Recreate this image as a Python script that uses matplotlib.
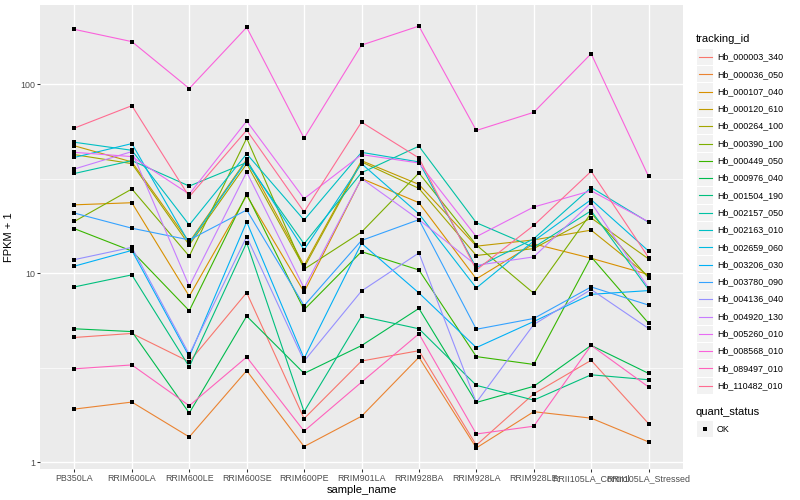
import numpy as np
import matplotlib
matplotlib.use('Agg')
import matplotlib.pyplot as plt
from matplotlib.patches import Rectangle
from matplotlib.lines import Line2D
from matplotlib.ticker import FixedLocator, NullFormatter

plt.rcParams['font.family'] = ['Liberation Sans', 'DejaVu Sans']

# サンプル名 (x軸)
samples = ['PB350LA', 'RRIM600LA', 'RRIM600LE', 'RRIM600SE', 'RRIM600PE',
           'RRIM901LA', 'RRIM928BA', 'RRIM928LA', 'RRIM928LE',
           'RRII105LA_Control', 'RRII105LA_Stressed']

tracking_ids = ['Hb_000003_340', 'Hb_000036_050', 'Hb_000107_040', 'Hb_000120_610',
                'Hb_000264_100', 'Hb_000390_100', 'Hb_000449_050', 'Hb_000976_040',
                'Hb_001504_190', 'Hb_002157_050', 'Hb_002163_010', 'Hb_002659_060',
                'Hb_003206_030', 'Hb_003780_090', 'Hb_004136_040', 'Hb_004920_130',
                'Hb_005260_010', 'Hb_008568_010', 'Hb_089497_010', 'Hb_110482_010']

# ggplot hue palette (20 levels)
colors = ['#F8766D', '#EA8331', '#D89000', '#C09B00', '#A3A500', '#7CAE00',
          '#39B600', '#00BB4E', '#00BF7D', '#00C1A3', '#00BFC4', '#00BAE0',
          '#00B0F6', '#35A2FF', '#9590FF', '#C77CFF', '#E76BF3', '#FA62DB',
          '#FF62BC', '#FF6C91']

# FPKM + 1 の値
hb_000003_340 = [4.57, 4.80, 3.40, 7.89, 1.70, 3.43, 3.89, 1.23, 2.30, 3.46, 1.60]
hb_000036_050 = [1.91, 2.08, 1.36, 3.05, 1.21, 1.75, 3.59, 1.19, 1.85, 1.71, 1.28]
hb_000107_040 = [23.0, 23.6, 7.55, 25.8, 7.95, 31.7, 23.6, 9.33, 14.3, 12.0, 9.84]
hb_000120_610 = [47.2, 38.8, 14.6, 40.0, 11.0, 39.4, 29.5, 13.9, 15.0, 16.9, 9.64]
hb_000264_100 = [42.4, 38.0, 14.1, 37.9, 10.7, 38.8, 28.1, 12.4, 13.5, 19.6, 11.9]
hb_000390_100 = [18.8, 27.9, 12.3, 51.8, 10.5, 16.5, 33.9, 14.1, 7.83, 20.8, 9.44]
hb_000449_050 = [17.2, 13.1, 6.33, 26.2, 6.41, 13.0, 10.4, 3.62, 3.29, 12.2, 5.44]
hb_000976_040 = [5.08, 4.91, 1.82, 5.93, 2.95, 4.14, 6.51, 2.07, 2.52, 4.15, 2.95]
hb_001504_190 = [8.46, 9.80, 3.20, 14.5, 1.85, 5.91, 5.08, 2.55, 2.13, 2.90, 2.73]
hb_002157_050 = [33.7, 39.4, 28.9, 38.5, 14.3, 34.0, 47.0, 18.5, 13.7, 21.4, 8.19]
hb_002163_010 = [49.3, 44.7, 18.0, 42.8, 19.1, 43.6, 38.8, 10.7, 15.2, 28.4, 18.6]
hb_002659_060 = [41.0, 48.5, 14.4, 39.4, 13.3, 38.0, 20.6, 8.35, 14.8, 24.5, 13.1]
hb_003206_030 = [10.9, 13.2, 3.62, 18.7, 3.54, 14.4, 7.86, 4.04, 5.55, 7.73, 8.09]
hb_003780_090 = [20.8, 17.3, 15.0, 21.6, 6.73, 14.9, 19.2, 5.05, 5.76, 8.46, 6.78]
hb_004136_040 = [11.8, 13.7, 3.72, 15.6, 3.43, 8.05, 12.8, 2.07, 5.35, 8.20, 5.10]
hb_004920_130 = [35.6, 44.0, 8.53, 34.3, 8.35, 31.7, 19.2, 11.0, 12.2, 23.6, 8.35]
hb_005260_010 = [43.6, 41.4, 26.2, 63.8, 24.8, 42.4, 38.3, 15.6, 22.4, 27.3, 18.7]
hb_008568_010 = [195, 168, 94.9, 200, 51.8, 161, 203, 56.9, 71.0, 145, 32.5]
hb_089497_010 = [3.12, 3.27, 1.99, 3.60, 1.46, 2.65, 4.78, 1.41, 1.55, 4.15, 2.50]
hb_110482_010 = [58.6, 77.0, 25.4, 57.1, 21.1, 63.0, 40.7, 10.4, 17.9, 34.6, 12.1]

series = [hb_000003_340, hb_000036_050, hb_000107_040, hb_000120_610, hb_000264_100,
          hb_000390_100, hb_000449_050, hb_000976_040, hb_001504_190, hb_002157_050,
          hb_002163_010, hb_002659_060, hb_003206_030, hb_003780_090, hb_004136_040,
          hb_004920_130, hb_005260_010, hb_008568_010, hb_089497_010, hb_110482_010]

W, H = 800, 500
fig = plt.figure(figsize=(W / 100, H / 100), dpi=100)
# パネル位置 (ピクセル)
pl, pr, pt, pb = 40, 683, 5, 469
ax = fig.add_axes([pl / W, 1 - pb / H, (pr - pl) / W, (pb - pt) / H])
ax.set_facecolor('#EBEBEB')
for s in ax.spines.values():
    s.set_visible(False)

x = np.arange(1, len(samples) + 1)
for vals, c in zip(series, colors):
    ax.plot(x, vals, color=c, lw=0.8, zorder=2, solid_joinstyle='round')
for vals in series:
    ax.plot(x, vals, ls='none', marker='s', ms=2.2, mew=0, color='black', zorder=3)

ax.set_yscale('log')
allv = np.concatenate([np.array(v) for v in series])
lo, hi = np.log10(allv.min()), np.log10(allv.max())
pad = 0.05 * (hi - lo)
ax.set_ylim(10 ** (lo - pad), 10 ** (hi + pad))
ax.set_xlim(0.4, len(samples) + 0.6)

ax.yaxis.set_major_locator(FixedLocator([1, 10, 100]))
ax.set_yticklabels(['1', '10', '100'])
ax.yaxis.set_minor_locator(FixedLocator([10 ** 0.5, 10 ** 1.5]))
ax.yaxis.set_minor_formatter(NullFormatter())
ax.set_xticks(x)
ax.set_xticklabels(samples)

ax.grid(which='major', color='white', lw=1.0, zorder=0)
ax.grid(which='minor', axis='y', color='white', lw=0.5, zorder=0)
ax.set_axisbelow(True)
ax.tick_params(which='major', length=2.2, width=0.75, color='#333333',
               labelsize=6.4, labelcolor='#4D4D4D', pad=1.5)
ax.tick_params(which='minor', length=0)

ax.set_xlabel('sample_name', fontsize=8, labelpad=1)
ax.set_ylabel('FPKM + 1', fontsize=8, labelpad=4)

# 凡例 (ピクセル座標で描画)
lg = fig.add_axes([0, 0, 1, 1])
lg.set_xlim(0, W)
lg.set_ylim(H, 0)
lg.axis('off')

lg.text(696, 39, 'tracking_id', fontsize=8, va='center', ha='left')
step = 17.3
y0 = 57
for i, (name, c) in enumerate(zip(tracking_ids, colors)):
    yc = y0 + i * step
    lg.add_patch(Rectangle((697, yc - step / 2 + 0.5), 16, step - 1,
                           facecolor='#F2F2F2', edgecolor='none'))
    lg.add_line(Line2D([698.5, 711.5], [yc, yc], color=c, lw=0.8))
    lg.text(717, yc, name, fontsize=6.4, va='center', ha='left')

lg.text(696, 412, 'quant_status', fontsize=8, va='center', ha='left')
lg.add_patch(Rectangle((697, 429.3 - step / 2 + 0.5), 16, step - 1,
                       facecolor='#F2F2F2', edgecolor='none'))
lg.add_line(Line2D([705], [429.3], ls='none', marker='s', ms=2.2, mew=0, color='black'))
lg.text(717, 429.3, 'OK', fontsize=6.4, va='center', ha='left')

fig.savefig('out.png', dpi=100)
